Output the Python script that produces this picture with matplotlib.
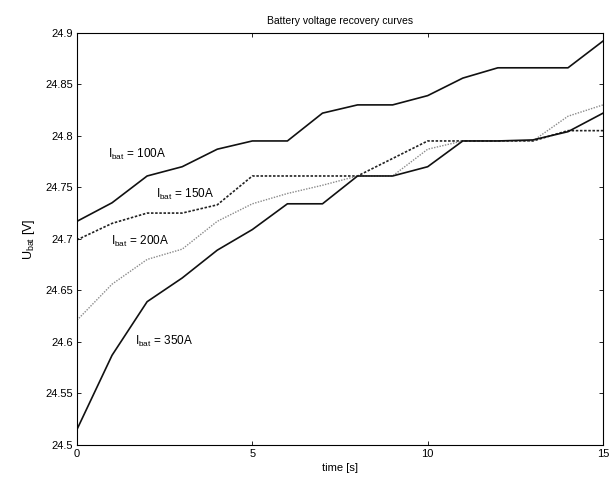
import matplotlib
matplotlib.use("Agg")
import matplotlib.pyplot as plt

plt.rcParams['font.family'] = ['Liberation Sans', 'DejaVu Sans']
plt.rcParams['mathtext.fontset'] = 'custom'
plt.rcParams['mathtext.rm'] = 'Liberation Sans'

# time axis [s]
t = list(range(16))

# battery voltage after load removal, per discharge current
u_100 = [24.717, 24.735, 24.761, 24.770, 24.787, 24.795, 24.795, 24.822,
         24.830, 24.830, 24.839, 24.856, 24.866, 24.866, 24.866, 24.892]
u_150 = [24.699, 24.715, 24.725, 24.725, 24.733, 24.761, 24.761, 24.761,
         24.761, 24.778, 24.795, 24.795, 24.795, 24.795, 24.805, 24.805]
u_200 = [24.621, 24.656, 24.680, 24.690, 24.717, 24.734, 24.744, 24.752,
         24.761, 24.761, 24.787, 24.795, 24.795, 24.795, 24.819, 24.830]
u_350 = [24.515, 24.587, 24.639, 24.662, 24.689, 24.709, 24.734, 24.734,
         24.761, 24.761, 24.770, 24.795, 24.795, 24.796, 24.804, 24.822]

labels = ['100A', '150A', '200A', '350A']
label_pos = [(0.88, 24.782), (2.25, 24.743), (0.97, 24.697), (1.65, 24.600)]

fig = plt.figure(figsize=(6.11, 4.82), dpi=100)
ax = fig.add_axes([0.126, 0.077, 0.861, 0.855])

ax.plot(t, u_100, color='#111111', lw=1.2, ls='-')
ax.plot(t, u_150, color='#222222', lw=1.2, ls=(0, (1.5, 1)))
ax.plot(t, u_200, color='#8a8a8a', lw=1.0, ls=(0, (1, 1)))
ax.plot(t, u_350, color='#111111', lw=1.2, ls='-')

for lab, (x, y) in zip(labels, label_pos):
    ax.text(x, y, r'I$_{\rm bat}$ = ' + lab, fontsize=8.5, va='center', ha='left')

ax.set_xlim(0, 15)
ax.set_ylim(24.5, 24.9)
ax.set_xticks([0, 5, 10, 15])
ax.set_yticks([24.5, 24.55, 24.6, 24.65, 24.7, 24.75, 24.8, 24.85, 24.9])
ax.set_yticklabels(['24.5', '24.55', '24.6', '24.65', '24.7', '24.75', '24.8', '24.85', '24.9'])
ax.tick_params(direction='in', top=True, right=True, labelsize=8, length=3, width=0.6, pad=3)
for s in ax.spines.values():
    s.set_linewidth(0.8)
    s.set_linestyle((0, (1.5, 1)))

ax.set_title('Battery voltage recovery curves', fontsize=7.5, pad=6)
ax.set_xlabel('time [s]', fontsize=8, labelpad=3)
ax.set_ylabel(r'U$_{\rm bat}$ [V]', fontsize=9, labelpad=6)

fig.savefig('out.png', dpi=100)
